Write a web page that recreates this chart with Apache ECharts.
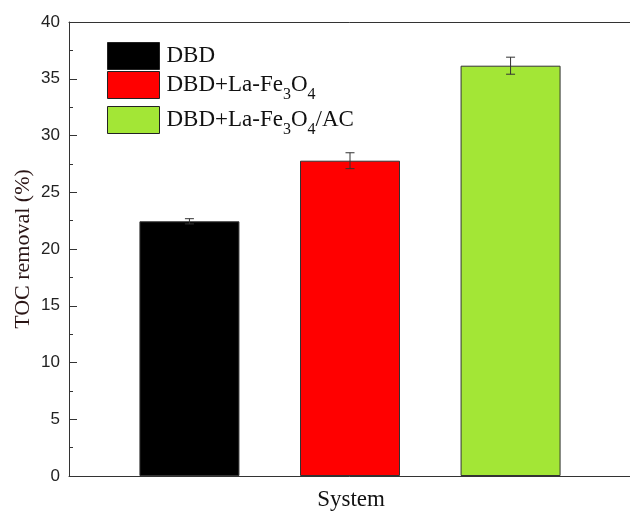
<!DOCTYPE html>
<html>
<head>
<meta charset="utf-8">
<script src="https://cdn.jsdelivr.net/npm/echarts@6/dist/echarts.min.js"></script>
<style>html,body{margin:0;padding:0;background:#fff;}#c{width:630px;height:512px;}</style>
</head>
<body>
<div id="c"></div>
<script>
// Data
var seriesNames = ['DBD', 'DBD+La-Fe3O4', 'DBD+La-Fe3O4/AC'];
var seriesValues = [22.44, 27.78, 36.15];
var seriesErrors = [0.23, 0.70, 0.75];
var seriesColors = ['#000000', '#ff0000', '#a3e636'];
var slots = ['', 'DBD', '', 'DBD+La-Fe3O4', '', 'DBD+La-Fe3O4/AC', ''];
var slotIndex = [1, 3, 5];
var yTicks = [0, 5, 10, 15, 20, 25, 30, 35, 40];
var xTitle = 'System';
var yTitle = 'TOC removal (%)';

var serif = '"Liberation Serif", "DejaVu Serif", serif';
var sans = '"Liberation Sans", Arial, sans-serif';

var legendLabels = [
  '{n|DBD}',
  '{n|DBD+La-Fe}{s|3}{n|O}{s|4}',
  '{n|DBD+La-Fe}{s|3}{n|O}{s|4}{n|/AC}'
];
var legendTops = [42, 71, 106];

var series = seriesNames.map(function (name, i) {
  var d = slots.map(function () { return null; });
  d[slotIndex[i]] = seriesValues[i];
  return {
    name: name,
    type: 'bar',
    data: d,
    barWidth: 100,
    barGap: '-100%',
    itemStyle: { color: seriesColors[i], borderColor: '#333', borderWidth: 1 },
    z: 2
  };
});

series.push({
  type: 'custom',
  name: 'err',
  z: 10,
  data: seriesValues.map(function (v, i) {
    return [slotIndex[i], v - seriesErrors[i], v + seriesErrors[i]];
  }),
  encode: { x: 0, y: [1, 2] },
  renderItem: function (params, api) {
    var lo = api.coord([api.value(0), api.value(1)]);
    var hi = api.coord([api.value(0), api.value(2)]);
    var hw = 4.5;
    var st = { stroke: '#333', lineWidth: 1 };
    return {
      type: 'group',
      children: [
        { type: 'line', shape: { x1: hi[0], y1: hi[1], x2: lo[0], y2: lo[1] }, style: st },
        { type: 'line', shape: { x1: hi[0] - hw, y1: hi[1], x2: hi[0] + hw, y2: hi[1] }, style: st },
        { type: 'line', shape: { x1: lo[0] - hw, y1: lo[1], x2: lo[0] + hw, y2: lo[1] }, style: st }
      ]
    };
  }
});

var legends = seriesNames.map(function (name, i) {
  return {
    data: [{ name: name, icon: 'rect' }],
    left: 107,
    top: legendTops[i],
    padding: 0,
    orient: 'vertical',
    itemWidth: 52,
    itemHeight: 27,
    itemGap: 0,
    selectedMode: false,
    itemStyle: { borderColor: '#222', borderWidth: 1 },
    formatter: function () { return legendLabels[i]; },
    textStyle: {
      padding: [0, 0, 0, 2],
      rich: {
        n: { fontFamily: serif, fontSize: 23, color: '#111', lineHeight: 27 },
        s: { fontFamily: serif, fontSize: 16, color: '#111', verticalAlign: 'bottom', lineHeight: 18, padding: [0, 0, -4, 0] }
      }
    }
  };
});

var chart = echarts.init(document.getElementById('c'));
chart.setOption({
  animation: false,
  backgroundColor: '#fff',
  grid: { left: 69, top: 22, width: 562, height: 454, containLabel: false, outerBoundsMode: 'none' },
  legend: legends,
  xAxis: [{
    type: 'category',
    data: slots,
    name: xTitle,
    nameLocation: 'middle',
    nameGap: 12,
    nameTextStyle: { fontFamily: serif, fontSize: 23, color: '#111', padding: [0, 0, 0, 2] },
    axisLine: { lineStyle: { color: '#333', width: 1 } },
    axisTick: { show: false },
    axisLabel: { show: false }
  }, {
    type: 'category',
    data: slots,
    position: 'top',
    axisLine: { show: true, lineStyle: { color: '#333', width: 1 } },
    axisTick: { show: false },
    axisLabel: { show: false }
  }],
  yAxis: {
    type: 'value',
    min: yTicks[0],
    max: yTicks[yTicks.length - 1],
    interval: yTicks[1] - yTicks[0],
    name: yTitle,
    nameLocation: 'middle',
    nameGap: 35,
    nameMoveOverlap: false,
    nameTextStyle: { fontFamily: serif, fontSize: 22, color: '#2a1515' },
    axisLine: { show: true, lineStyle: { color: '#333', width: 1 } },
    axisTick: { show: true, inside: true, length: 8, lineStyle: { color: '#333' } },
    minorTick: { show: true, splitNumber: 2, length: 4, lineStyle: { color: '#333' } },
    splitLine: { show: false },
    minorSplitLine: { show: false },
    axisLabel: { fontFamily: sans, fontSize: 17, color: '#222', margin: 9 }
  },
  series: series
});
</script>
</body>
</html>
